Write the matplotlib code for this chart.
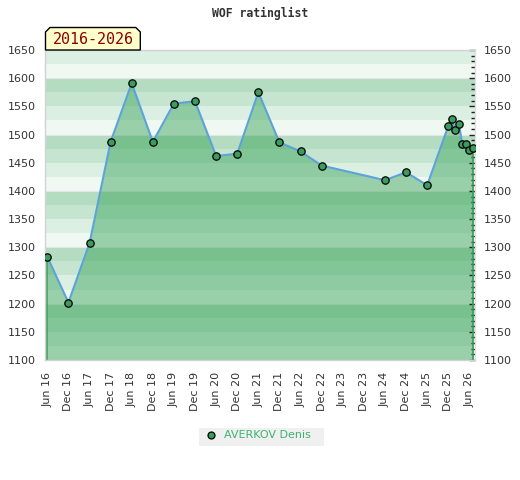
import matplotlib
matplotlib.use("Agg")
import matplotlib.pyplot as plt
from matplotlib.patches import Polygon, Rectangle
from matplotlib.lines import Line2D
import numpy as np

# ---- data ----
months = [0, 6, 12, 18, 24, 30, 36, 42, 48, 54, 60, 66, 72, 78,
          96, 102, 108, 114, 115, 116, 117, 118, 119, 120, 121]
ratings = [1283, 1202, 1307, 1487, 1591, 1487, 1555, 1559, 1462, 1466,
           1575, 1486, 1470, 1445, 1419, 1433, 1410, 1515, 1528, 1508,
           1519, 1483, 1483, 1472, 1476]
tick_months = list(range(0, 121, 6))
tick_labels = ["Jun 16", "Dec 16", "Jun 17", "Dec 17", "Jun 18", "Dec 18",
               "Jun 19", "Dec 19", "Jun 20", "Dec 20", "Jun 21", "Dec 21",
               "Jun 22", "Dec 22", "Jun 23", "Dec 23", "Jun 24", "Dec 24",
               "Jun 25", "Dec 25", "Jun 26"]
y_ticks = list(range(1100, 1651, 50))
title = "WOF ratinglist"
period = "2016-2026"
player = "AVERKOV Denis"

y_min, y_max = 1100, 1650

fig = plt.figure(figsize=(5.2, 4.8), dpi=100)
ax = fig.add_axes([45.3 / 520, 1 - 360 / 480, (475 - 45.3) / 520, 310 / 480])

# background stripes (25-unit bands, 4-step pattern per hundred)
stripe_cols = ["#f0f8f2", "#dcefe3", "#c6e5d0", "#b3dcc0"]
for lo in range(y_min, y_max, 25):
    idx = (lo % 100) // 25
    ax.axhspan(lo, lo + 25, color=stripe_cols[idx], lw=0, zorder=0)
for h in range(1200, 1650, 100):
    ax.axhline(h, color="#e6e6e6", lw=0.8, zorder=0.5)

# area fill
ax.fill_between(months, ratings, y_min, color="#30a053", alpha=0.45, lw=0, zorder=1)
ax.vlines([months[0], months[-1]], y_min, [ratings[0], ratings[-1]],
          color="#3a9a5a", lw=1.2, zorder=2)
ax.plot(months, ratings, color="#5ba3d9", lw=1.5, zorder=3)
ax.plot(months, ratings, ls="none", marker="o", ms=5.3, mfc="#3a9d5d",
        mec="black", mew=0.9, zorder=4)

ax.set_xlim(-0.57, 121.6)
ax.set_ylim(y_min, y_max)
ax.set_xticks(tick_months)
ax.set_xticklabels(tick_labels, rotation=90, fontsize=8, color="#333333",
                   family="DejaVu Sans")
ax.tick_params(axis="x", length=0, pad=8.5)
ax.set_yticks(y_ticks)
ax.set_yticklabels([str(v) for v in y_ticks], fontsize=8, color="#333333")
ax.tick_params(axis="y", which="major", left=False, right=True, labelleft=True,
               labelright=True, length=4, direction="in", width=1,
               color="#222222", pad=6.5)
ax.set_yticks(range(1100, 1651, 10), minor=True)
ax.tick_params(axis="y", which="minor", left=False, right=True, length=3,
               direction="in", width=1, color="#222222")
for s in ["left", "top", "bottom"]:
    ax.spines[s].set_color("#d2d2d2")
    ax.spines[s].set_linewidth(1)
ax.spines["right"].set_color("#e0e0e0")
ax.spines["right"].set_linewidth(1)

# title
fig.text(260 / 520, 1 - 13 / 480, title, ha="center", va="center",
         family="DejaVu Sans Mono", fontweight="bold", fontsize=8.3,
         color="#333333")

# period box with cut corners
W, H = 520.0, 480.0
x0, x1, yt, yb, c = 45.5, 140.3, 27.5, 50.0, 4.5
pts = [(x0, yb), (x0, yt + c), (x0 + c, yt), (x1 - c, yt), (x1, yt + c), (x1, yb)]
pts = [(px / W, 1 - py / H) for px, py in pts]
fig.patches.append(Polygon(pts, closed=True, facecolor="#ffffcc",
                           edgecolor="black", lw=1, transform=fig.transFigure,
                           figure=fig))
fig.text((x0 + x1) / 2 / W, 1 - 40 / H, period, ha="center", va="center",
         family="DejaVu Sans Mono", fontsize=10.8, color="#8b0000")

# legend
fig.patches.append(Rectangle((199 / W, 1 - 446 / H), (324 - 199) / W, 18 / H,
                             facecolor="#f0f0f0", edgecolor="none",
                             transform=fig.transFigure, figure=fig))
fig.add_artist(Line2D([210.7 / W], [1 - 435 / H], ls="none", marker="o", ms=5,
                      mfc="#3a9d5d", mec="black", mew=0.9,
                      transform=fig.transFigure))
fig.text(224 / W, 1 - 435.5 / H, player, ha="left", va="center", fontsize=8,
         color="#3cb371")

fig.savefig("out.png", dpi=100)
